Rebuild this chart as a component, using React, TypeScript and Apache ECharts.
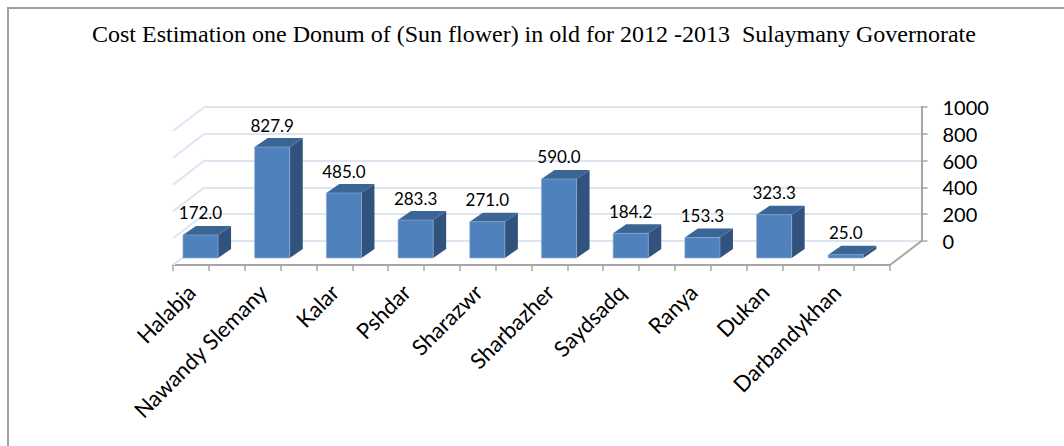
import React, { useEffect, useRef } from "react";
import * as echarts from "echarts";

const titleText = "Cost Estimation one Donum of (Sun flower) in old for 2012 -2013  Sulaymany Governorate";
const categories = ["Halabja", "Nawandy Slemany", "Kalar", "Pshdar", "Sharazwr", "Sharbazher", "Saydsadq", "Ranya", "Dukan", "Darbandykhan"];
const costs = [172.0, 827.9, 485.0, 283.3, 271.0, 590.0, 184.2, 153.3, 323.3, 25.0];
const wallLevels = [0, 200, 400, 600, 800, 1000];

const DEPTH_X = 31.5;
const DEPTH_Y = 24;
const BAR_DX = 13;
const BAR_DY = 9;
const GRID_BLUE = "#dce6f2";
const AXIS_GREY = "#a6a6a6";

export default function App() {
  const ref = useRef<HTMLDivElement>(null);
  useEffect(() => {
    document.body.style.margin = "0";
    document.body.style.overflow = "hidden";
    const chart = echarts.init(ref.current!, undefined, { renderer: "svg" });
    chart.setOption({
      animation: false,
      backgroundColor: "#ffffff",
      title: {
        text: titleText,
        left: 87,
        top: 17,
        textStyle: { fontFamily: "Liberation Serif", fontSize: 24, fontWeight: "normal", color: "#000000" },
      },
      graphic: [
        {
          type: "polyline",
          shape: { points: [[8, 446], [8, 8], [1064, 8]] },
          style: { stroke: "#a0a0a0", lineWidth: 2, fill: "none" },
        },
      ],
      grid: [
        { left: 204, width: 717.5, top: 107, height: 134 },
        { left: 164.65, width: 717, top: 124, height: 134 },
        { left: 173, width: 717, top: 131, height: 134 },
      ],
      xAxis: [
        { gridIndex: 0, type: "value", min: 0, max: 10, show: false },
        {
          gridIndex: 1,
          type: "category",
          data: categories,
          offset: 7,
          axisLine: { show: false },
          axisTick: { show: false },
          axisLabel: {
            interval: 0,
            rotate: 45,
            margin: 14,
            padding: [0, 13, 0, 0],
            fontFamily: "Lato",
            fontSize: 22,
            color: "#000000",
          },
        },
        {
          gridIndex: 2,
          type: "value",
          min: 0,
          max: 10,
          interval: 0.5,
          axisLine: { show: true, onZero: false, lineStyle: { color: AXIS_GREY, width: 2 } },
          axisTick: { show: true, length: 6, lineStyle: { color: AXIS_GREY, width: 1.5 } },
          axisLabel: { show: false },
          splitLine: { show: false },
        },
      ],
      yAxis: [
        {
          gridIndex: 0,
          type: "value",
          position: "right",
          min: 0,
          max: 1000,
          interval: 200,
          axisLine: { show: true, onZero: false, lineStyle: { color: AXIS_GREY, width: 2 } },
          axisTick: { show: true, length: 6, lineStyle: { color: AXIS_GREY, width: 1.5 } },
          axisLabel: {
            margin: 21,
            fontFamily: "Lato",
            fontSize: 20,
            color: "#000000",
            formatter: (v: number) => String(v),
          },
          splitLine: { show: true, lineStyle: { color: GRID_BLUE, width: 2 } },
        },
        { gridIndex: 1, type: "value", min: 0, max: 1000, show: false },
        { gridIndex: 2, type: "value", min: 0, max: 1000, show: false },
      ],
      series: [
        {
          type: "custom",
          xAxisIndex: 2,
          yAxisIndex: 2,
          silent: true,
          data: wallLevels.map((v) => [0, v]),
          renderItem: (_p: any, api: any) => {
            const [x, y] = api.coord([api.value(0), api.value(1)]);
            return {
              type: "line",
              shape: { x1: x, y1: y, x2: x + DEPTH_X, y2: y - DEPTH_Y },
              style: { stroke: GRID_BLUE, lineWidth: 2 },
            };
          },
        },
        {
          type: "custom",
          xAxisIndex: 2,
          yAxisIndex: 2,
          silent: true,
          data: [[10, 0]],
          renderItem: (_p: any, api: any) => {
            const [x, y] = api.coord([api.value(0), api.value(1)]);
            return {
              type: "line",
              shape: { x1: x, y1: y, x2: x + DEPTH_X, y2: y - DEPTH_Y },
              style: { stroke: AXIS_GREY, lineWidth: 2 },
            };
          },
        },
        {
          type: "custom",
          xAxisIndex: 1,
          yAxisIndex: 1,
          silent: true,
          data: costs.map((v, i) => [i, v]),
          encode: { x: 0, y: 1 },
          renderItem: (_p: any, api: any) => {
            const value = api.value(1);
            const [cx, top] = api.coord([api.value(0), value]);
            const [, base] = api.coord([api.value(0), 0]);
            const half = api.size([1, 0])[0] * 0.245;
            const l = cx - half;
            const r = cx + half;
            return {
              type: "group",
              children: [
                {
                  type: "polygon",
                  shape: { points: [[r, top], [r + BAR_DX, top - BAR_DY], [r + BAR_DX, base - BAR_DY], [r, base]] },
                  style: { fill: "#30527c" },
                },
                {
                  type: "polygon",
                  shape: { points: [[l, top], [l + BAR_DX, top - BAR_DY], [r + BAR_DX, top - BAR_DY], [r, top]] },
                  style: { fill: "#3a6595" },
                },
                {
                  type: "rect",
                  shape: { x: l, y: top, width: r - l, height: base - top },
                  style: { fill: "#4f81bd", stroke: "#8fb0d8", lineWidth: 0.6 },
                },
                {
                  type: "text",
                  x: cx,
                  y: top - 22,
                  style: {
                    text: value.toFixed(1),
                    fontFamily: "Lato",
                    fontSize: 17,
                    fill: "#000000",
                    align: "center",
                    verticalAlign: "middle",
                  },
                },
              ],
            };
          },
        },
      ],
    });
    return () => chart.dispose();
  }, []);
  return <div ref={ref} style={{ position: "fixed", left: 0, top: 0, width: 1064, height: 446 }} />;
}
